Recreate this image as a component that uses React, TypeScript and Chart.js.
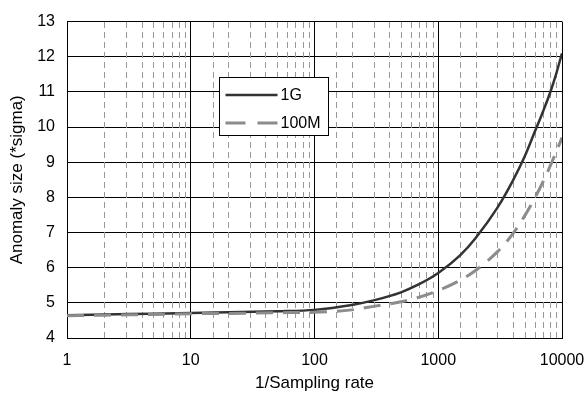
import React, { useEffect, useRef } from "react";
import { Chart, registerables } from "chart.js";

Chart.register(...registerables);

const samplingX = [1, 2, 5, 10, 20, 50, 100, 200, 300, 500, 700, 1000, 1500, 2000, 3000, 4000, 5000, 6000, 7000, 8000, 9000, 10000];
const series1G = [4.65, 4.67, 4.69, 4.71, 4.73, 4.76, 4.80, 4.94, 5.07, 5.30, 5.53, 5.85, 6.35, 6.84, 7.70, 8.47, 9.17, 9.85, 10.43, 10.97, 11.53, 12.10];
const series100M = [4.63, 4.65, 4.67, 4.69, 4.70, 4.72, 4.73, 4.80, 4.90, 5.03, 5.16, 5.35, 5.64, 5.92, 6.45, 6.96, 7.48, 7.97, 8.43, 8.88, 9.30, 9.70];
const seriesNames = ["1G", "100M"];
const xTickLabels = ["1", "10", "100", "1000", "10000"];
const yMin = 4;
const yMax = 13;

const FONT = "'Liberation Sans', Arial, sans-serif";
const COLOR_1G = "#333333";
const COLOR_100M = "#8c8c8c";
const DASH_100M = [17, 10];

const isMajor = (v: number) => Math.abs(Math.log10(v) - Math.round(Math.log10(v))) < 1e-9;

const minorGridPlugin = {
  id: "minorGrid",
  beforeDatasetsDraw(chart: any) {
    const { ctx, chartArea, scales } = chart;
    const xs = scales.x;
    ctx.save();
    ctx.strokeStyle = "#999999";
    ctx.lineWidth = 1;
    ctx.setLineDash([6, 4]);
    xs.ticks.forEach((t: any) => {
      if (isMajor(t.value)) return;
      const px = Math.round(xs.getPixelForValue(t.value)) + 0.5;
      ctx.beginPath();
      ctx.moveTo(px, chartArea.bottom);
      ctx.lineTo(px, chartArea.top);
      ctx.stroke();
    });
    ctx.restore();
  },
};

const boxLegendPlugin = {
  id: "boxLegend",
  afterDraw(chart: any) {
    const { ctx, chartArea } = chart;
    const x0 = Math.round(chartArea.left + 152) + 0.5;
    const y0 = Math.round(chartArea.top + 55) + 0.5;
    const w = 109;
    const h = 58;
    ctx.save();
    ctx.fillStyle = "#ffffff";
    ctx.fillRect(x0, y0, w, h);
    ctx.strokeStyle = "#000000";
    ctx.lineWidth = 1;
    ctx.strokeRect(x0, y0, w, h);
    const rows = [
      { label: seriesNames[0], color: COLOR_1G, width: 2.5, dash: [] as number[], y: y0 + 17.5 },
      { label: seriesNames[1], color: COLOR_100M, width: 3, dash: [20, 12], y: y0 + 45.5 },
    ];
    rows.forEach((r) => {
      ctx.beginPath();
      ctx.strokeStyle = r.color;
      ctx.lineWidth = r.width;
      ctx.setLineDash(r.dash);
      ctx.moveTo(x0 + 6, r.y);
      ctx.lineTo(x0 + 58, r.y);
      ctx.stroke();
      ctx.setLineDash([]);
      ctx.fillStyle = "#000000";
      ctx.font = `16px ${FONT}`;
      ctx.textAlign = "left";
      ctx.textBaseline = "middle";
      ctx.fillText(r.label, x0 + 61, r.y + 1);
    });
    ctx.restore();
  },
};

export default function App() {
  const canvasRef = useRef<HTMLCanvasElement | null>(null);

  useEffect(() => {
    document.body.style.margin = "0";
    const canvas = canvasRef.current;
    if (!canvas) return;
    const chart = new Chart(canvas, {
      type: "line",
      data: {
        datasets: [
          {
            label: seriesNames[0],
            data: samplingX.map((x, i) => ({ x, y: series1G[i] })),
            borderColor: COLOR_1G,
            borderWidth: 2.5,
            pointRadius: 0,
            cubicInterpolationMode: "monotone",
            fill: false,
            order: 2,
          },
          {
            label: seriesNames[1],
            data: samplingX.map((x, i) => ({ x, y: series100M[i] })),
            borderColor: COLOR_100M,
            borderWidth: 3,
            borderDash: DASH_100M,
            pointRadius: 0,
            cubicInterpolationMode: "monotone",
            fill: false,
            order: 1,
          },
        ],
      },
      options: {
        animation: false,
        responsive: false,
        maintainAspectRatio: false,
        layout: { padding: { left: 0, right: 25, top: 18, bottom: 0 } },
        plugins: {
          legend: { display: false },
          tooltip: { enabled: false },
        },
        scales: {
          x: {
            type: "logarithmic",
            min: 1,
            max: 10000,
            afterFit: (s: any) => {
              s.height = 56;
              s.paddingLeft = 0;
              s.paddingRight = 0;
            },
            grid: {
              drawTicks: false,
              color: (c: any) => (c.tick && isMajor(c.tick.value) ? "#000000" : "rgba(0,0,0,0)"),
              lineWidth: 1,
            },
            border: { display: true, color: "#000000", width: 1 },
            ticks: {
              autoSkip: false,
              maxRotation: 0,
              padding: 13,
              color: "#000000",
              font: { family: FONT, size: 16 },
              callback: (v: any) => {
                const n = Number(v);
                if (!isMajor(n)) return "";
                const s = String(Math.round(n));
                return xTickLabels.includes(s) ? s : "";
              },
            },
            title: {
              display: true,
              text: "1/Sampling rate",
              color: "#000000",
              font: { family: FONT, size: 17 },
              padding: { top: 0, bottom: 0 },
            },
          },
          y: {
            type: "linear",
            min: yMin,
            max: yMax,
            afterFit: (s: any) => {
              s.width = 67;
            },
            grid: {
              drawTicks: false,
              color: "#000000",
              lineWidth: 1,
            },
            border: { display: true, color: "#000000", width: 1 },
            ticks: {
              stepSize: 1,
              padding: 12,
              color: "#000000",
              font: { family: FONT, size: 16 },
            },
            title: {
              display: true,
              text: "Anomaly size (*sigma)",
              color: "#000000",
              font: { family: FONT, size: 17 },
              padding: { top: 7, bottom: 0 },
            },
          },
        },
      },
      plugins: [minorGridPlugin, boxLegendPlugin],
    } as any);
    return () => {
      chart.destroy();
    };
  }, []);

  return (
    <div style={{ width: 587, height: 394 }}>
      <canvas ref={canvasRef} width={587} height={394} style={{ display: "block" }} />
    </div>
  );
}
